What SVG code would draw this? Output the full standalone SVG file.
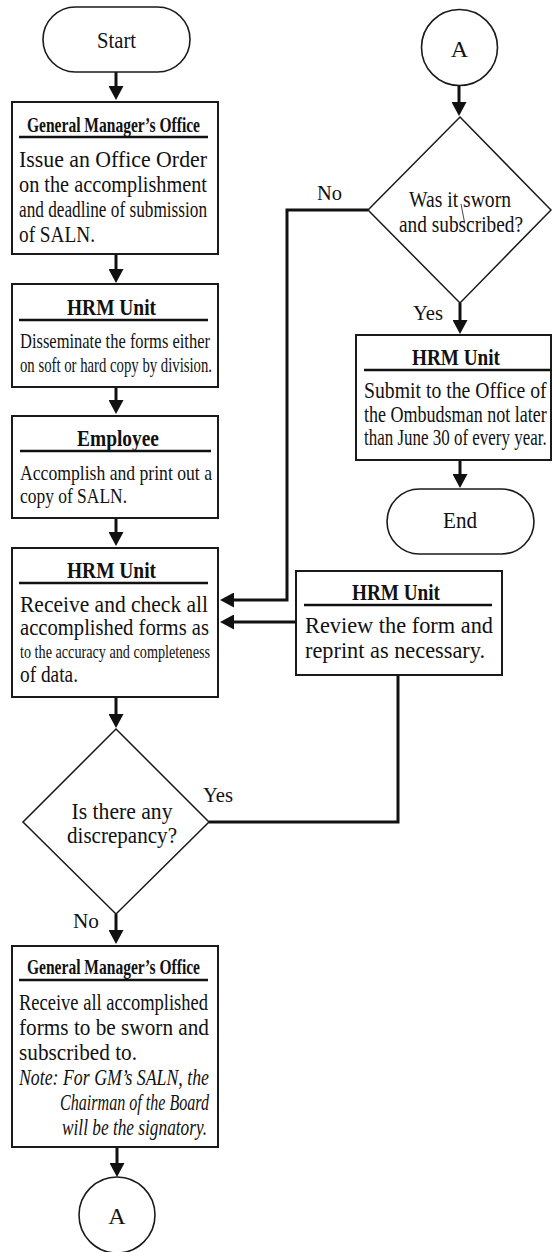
<svg xmlns="http://www.w3.org/2000/svg" width="552" height="1252" viewBox="0 0 552 1252">
  <style>
    .box { fill: #fff; stroke: #1a1a1a; stroke-width: 2; }
    .term { fill: #fff; stroke: #1a1a1a; stroke-width: 1.6; }
    .dec { fill: #fff; stroke: #1a1a1a; stroke-width: 1.5; }
    .rule { stroke: #111; stroke-width: 2.5; }
    .conn { fill: none; stroke: #111; stroke-width: 3; }
    text { font-family: 'Liberation Serif', 'DejaVu Serif', serif; fill: #111; }
    .hdr { font-weight: bold; font-size: 22px; text-anchor: middle; }
    .hdr2 { font-weight: bold; font-size: 24px; text-anchor: middle; }
    .t { font-size: 24px; }
    .t23 { font-size: 23px; }
    .s { font-size: 22px; }
    .xs { font-size: 19px; }
    .it { font-size: 24px; font-style: italic; }
    .mid { text-anchor: middle; }
    .lbl { font-size: 22px; }
  </style>
  <defs>
    <marker id="ah" viewBox="0 0 14 15" refX="1" refY="7.5" markerWidth="14" markerHeight="15" markerUnits="userSpaceOnUse" orient="auto">
      <path d="M0,0 L14,7.5 L0,15 Z" fill="#111"/>
    </marker>
  </defs>

  <!-- connectors -->
  <g id="connectors">
    <path class="conn" d="M116,72 V87" marker-end="url(#ah)"/>
    <path class="conn" d="M116,254 V270" marker-end="url(#ah)"/>
    <path class="conn" d="M116,387 V401" marker-end="url(#ah)"/>
    <path class="conn" d="M116,518 V533" marker-end="url(#ah)"/>
    <path class="conn" d="M116,697 V715" marker-end="url(#ah)"/>
    <path class="conn" d="M116,914 V931" marker-end="url(#ah)"/>
    <path class="conn" d="M117,1147 V1164" marker-end="url(#ah)"/>
    <path class="conn" d="M459,85 V103" marker-end="url(#ah)"/>
    <path class="conn" d="M460,303 V321" marker-end="url(#ah)"/>
    <path class="conn" d="M460,460 V475" marker-end="url(#ah)"/>
    <path class="conn" d="M368,210 H287 V600 H233" marker-end="url(#ah)"/>
    <path class="conn" d="M296,622 H233" marker-end="url(#ah)"/>
    <path class="conn" d="M209,822 H398 V675"/>
    <text class="lbl" x="317" y="200" textLength="25" lengthAdjust="spacingAndGlyphs">No</text>
    <text class="lbl" x="413" y="320" textLength="30" lengthAdjust="spacingAndGlyphs">Yes</text>
    <text class="lbl" x="203" y="802" textLength="30" lengthAdjust="spacingAndGlyphs">Yes</text>
    <text class="lbl" x="73" y="928" textLength="26" lengthAdjust="spacingAndGlyphs">No</text>
  </g>

  <!-- start terminal -->
  <g id="start">
    <rect class="term" x="43" y="7" width="147" height="65" rx="32.5"/>
    <text class="t mid" x="116.5" y="48" textLength="39" lengthAdjust="spacingAndGlyphs">Start</text>
  </g>

  <!-- GM office: issue order -->
  <g id="gm-issue">
    <rect class="box" x="12" y="102" width="206" height="152"/>
    <text class="hdr" x="113.5" y="132" textLength="173" lengthAdjust="spacingAndGlyphs">General Manager’s Office</text>
    <line class="rule" x1="19" y1="137" x2="208" y2="137"/>
    <text class="t" x="19" y="167" textLength="188" lengthAdjust="spacingAndGlyphs">Issue an Office Order</text>
    <text class="t" x="19" y="192" textLength="188" lengthAdjust="spacingAndGlyphs">on the accomplishment</text>
    <text class="t" x="19" y="217" textLength="188" lengthAdjust="spacingAndGlyphs">and deadline of submission</text>
    <text class="t" x="19" y="242" textLength="76" lengthAdjust="spacingAndGlyphs">of SALN.</text>
  </g>

  <!-- HRM: disseminate -->
  <g id="hrm-disseminate">
    <rect class="box" x="12" y="284" width="206" height="103"/>
    <text class="hdr2" x="111.5" y="315" textLength="89" lengthAdjust="spacingAndGlyphs">HRM Unit</text>
    <line class="rule" x1="19" y1="320" x2="208" y2="320"/>
    <text class="s" x="20" y="348" textLength="190" lengthAdjust="spacingAndGlyphs">Disseminate the forms either</text>
    <text class="s" x="20" y="372" textLength="192" lengthAdjust="spacingAndGlyphs">on soft or hard copy by division.</text>
  </g>

  <!-- Employee -->
  <g id="employee">
    <rect class="box" x="12" y="416" width="206" height="102"/>
    <text class="hdr2" x="118" y="446" textLength="82" lengthAdjust="spacingAndGlyphs">Employee</text>
    <line class="rule" x1="20" y1="451" x2="211" y2="451"/>
    <text class="s" x="20" y="480" textLength="192" lengthAdjust="spacingAndGlyphs">Accomplish and print out a</text>
    <text class="s" x="20" y="503" textLength="107" lengthAdjust="spacingAndGlyphs">copy of SALN.</text>
  </g>

  <!-- HRM: receive and check -->
  <g id="hrm-check">
    <rect class="box" x="12" y="548" width="206" height="149"/>
    <text class="hdr2" x="111.5" y="578" textLength="89" lengthAdjust="spacingAndGlyphs">HRM Unit</text>
    <line class="rule" x1="19" y1="583" x2="208" y2="583"/>
    <text class="t23" x="20" y="612" textLength="188" lengthAdjust="spacingAndGlyphs">Receive and check all</text>
    <text class="t23" x="20" y="635" textLength="189" lengthAdjust="spacingAndGlyphs">accomplished forms as</text>
    <text class="xs" x="20" y="658" textLength="190" lengthAdjust="spacingAndGlyphs">to the accuracy and completeness</text>
    <text class="t23" x="20" y="682" textLength="58" lengthAdjust="spacingAndGlyphs">of data.</text>
  </g>

  <!-- decision: discrepancy -->
  <g id="dec-discrepancy">
    <polygon class="dec" points="116,729 209,822 116,914 23,822"/>
    <text class="t mid" x="122" y="819" textLength="101" lengthAdjust="spacingAndGlyphs">Is there any</text>
    <text class="t mid" x="122" y="843" textLength="110" lengthAdjust="spacingAndGlyphs">discrepancy?</text>
  </g>

  <!-- GM office: receive for swearing -->
  <g id="gm-receive">
    <rect class="box" x="12" y="946" width="206" height="201"/>
    <text class="hdr" x="113.5" y="974" textLength="173" lengthAdjust="spacingAndGlyphs">General Manager’s Office</text>
    <line class="rule" x1="19" y1="980" x2="208" y2="980"/>
    <text class="t" x="19" y="1010" textLength="189" lengthAdjust="spacingAndGlyphs">Receive all accomplished</text>
    <text class="t" x="19" y="1035" textLength="190" lengthAdjust="spacingAndGlyphs">forms to be sworn and</text>
    <text class="t" x="19" y="1060" textLength="118" lengthAdjust="spacingAndGlyphs">subscribed to.</text>
    <text class="it" x="19" y="1085" textLength="190" lengthAdjust="spacingAndGlyphs">Note: For GM’s SALN, the</text>
    <text class="it" x="60" y="1110" textLength="149" lengthAdjust="spacingAndGlyphs">Chairman of the Board</text>
    <text class="it" x="62" y="1135" textLength="145" lengthAdjust="spacingAndGlyphs">will be the signatory.</text>
  </g>

  <!-- off-page connector (out) -->
  <g id="conn-a-out">
    <circle class="term" cx="117" cy="1215" r="38"/>
    <text class="t mid" x="117" y="1224">A</text>
  </g>

  <!-- off-page connector (in) -->
  <g id="conn-a-in">
    <circle class="term" cx="459.5" cy="47.5" r="38"/>
    <text class="t mid" x="459.5" y="57">A</text>
  </g>

  <!-- decision: sworn -->
  <g id="dec-sworn">
    <polygon class="dec" points="460,117 551,210 460,303 368,210"/>
    <text class="t mid" x="460" y="207" textLength="102" lengthAdjust="spacingAndGlyphs">Was it sworn</text>
    <text class="t mid" x="461" y="232" textLength="124" lengthAdjust="spacingAndGlyphs">and subscribed?</text>
    <line x1="461" y1="204" x2="464.5" y2="222" stroke="#333" stroke-width="0.9"/>
  </g>

  <!-- HRM: submit (body lines condensed horizontally to fit the column) -->
  <g id="hrm-submit">
    <rect class="box" x="356" y="335" width="195" height="125"/>
    <text class="hdr2" x="456" y="365" textLength="88" lengthAdjust="spacingAndGlyphs">HRM Unit</text>
    <line class="rule" x1="364" y1="370" x2="551" y2="370"/>
    <text class="t23" transform="translate(364,398) scale(0.7,1)" textLength="261" lengthAdjust="spacingAndGlyphs">Submit to the Office of</text>
    <text class="t23" transform="translate(364,422) scale(0.7,1)" textLength="261" lengthAdjust="spacingAndGlyphs">the Ombudsman not later</text>
    <text class="t23" transform="translate(364,445) scale(0.7,1)" textLength="261" lengthAdjust="spacingAndGlyphs">than June 30 of every year.</text>
  </g>

  <!-- end terminal -->
  <g id="end">
    <rect class="term" x="387" y="489" width="147" height="65" rx="32.5"/>
    <text class="t mid" x="460" y="528" textLength="34" lengthAdjust="spacingAndGlyphs">End</text>
  </g>

  <!-- HRM: review -->
  <g id="hrm-review">
    <rect class="box" x="296" y="571" width="206" height="104"/>
    <text class="hdr2" x="396" y="600" textLength="88" lengthAdjust="spacingAndGlyphs">HRM Unit</text>
    <line class="rule" x1="304" y1="605" x2="492" y2="605"/>
    <text class="t" x="305" y="633" textLength="188" lengthAdjust="spacingAndGlyphs">Review the form and</text>
    <text class="t" x="305" y="658" textLength="180" lengthAdjust="spacingAndGlyphs">reprint as necessary.</text>
  </g>
</svg>
